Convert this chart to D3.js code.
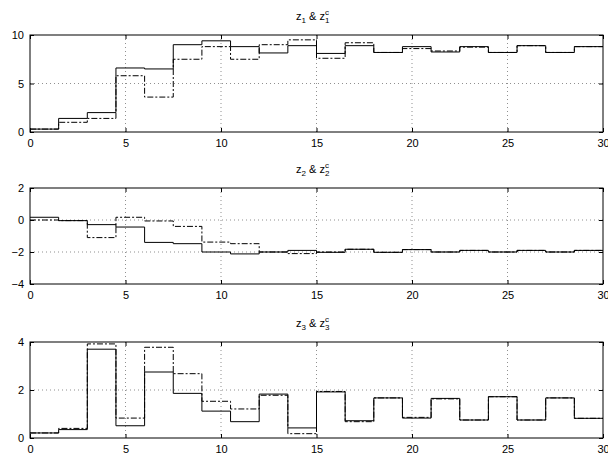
<!DOCTYPE html>
<html>
<head>
<meta charset="utf-8">
<script src="https://cdn.jsdelivr.net/npm/d3@7"></script>
<style>
body { margin: 0; background: #fff; }
text { font-family: "Liberation Sans", Arial, sans-serif; }
</style>
</head>
<body>
<script>
// step boundaries (every 1.5 s)
var steps = [0, 1.5, 3, 4.5, 6, 7.5, 9, 10.5, 12, 13.5, 15, 16.5, 18, 19.5, 21, 22.5, 24, 25.5, 27, 28.5, 30];
var xTicks = [0, 5, 10, 15, 20, 25, 30];

// z1 (solid) and z1c (dash-dot)
var z1  = [0.3, 1.4, 2.0, 6.6, 6.5, 9.0, 9.4, 8.8, 8.15, 8.9, 8.1, 8.9, 8.2, 8.8, 8.25, 8.8, 8.2, 8.9, 8.2, 8.8];
var z1c = [0.3, 1.0, 1.4, 5.8, 3.6, 7.5, 8.8, 7.5, 9.0, 9.5, 7.6, 9.2, 8.2, 8.6, 8.35, 8.75, 8.2, 8.9, 8.2, 8.8];
// z2 and z2c
var z2  = [0.17, -0.04, -0.29, -0.44, -1.4, -1.48, -2.0, -2.12, -2.0, -1.9, -2.02, -1.83, -2.02, -1.85, -2.0, -1.9, -2.0, -1.9, -2.0, -1.9];
var z2c = [0.0, -0.04, -1.1, 0.17, -0.06, -0.4, -1.38, -1.48, -2.0, -2.1, -2.0, -1.83, -2.02, -1.85, -2.0, -1.9, -2.0, -1.9, -2.0, -1.9];
// z3 and z3c
var z3  = [0.21, 0.35, 3.7, 0.51, 2.75, 1.86, 1.12, 0.68, 1.83, 0.42, 1.92, 0.72, 1.67, 0.83, 1.65, 0.75, 1.72, 0.75, 1.67, 0.82];
var z3c = [0.21, 0.4, 3.92, 0.83, 3.78, 2.68, 1.53, 1.21, 1.78, 0.18, 1.94, 0.68, 1.67, 0.86, 1.63, 0.75, 1.72, 0.75, 1.67, 0.82];

var panels = [
  {idx: "1", top: 35,  bottom: 132, domain: [0, 10], yTicks: [0, 5, 10], a: z1, b: z1c},
  {idx: "2", top: 188, bottom: 284, domain: [-4, 2], yTicks: [-4, -2, 0, 2], a: z2, b: z2c},
  {idx: "3", top: 342, bottom: 438, domain: [0, 4], yTicks: [0, 2, 4], a: z3, b: z3c}
];

var w = 608, h = 453;
var left = 30, right = 603;

var svg = d3.select("body").append("svg")
  .attr("width", w)
  .attr("height", h);

var x = d3.scaleLinear().domain([0, 30]).range([left, right]);

function stepPoints(vals) {
  var pts = [];
  vals.forEach(function(v, i) {
    pts.push([steps[i], v]);
    pts.push([steps[i + 1], v]);
  });
  return pts;
}

panels.forEach(function(p) {
  var y = d3.scaleLinear().domain(p.domain).range([p.bottom, p.top]);
  var g = svg.append("g");

  // grid
  g.selectAll(".gx").data(xTicks.slice(1, -1)).enter().append("line")
    .attr("x1", d => x(d)).attr("x2", d => x(d))
    .attr("y1", p.top).attr("y2", p.bottom)
    .attr("stroke", "#444").attr("stroke-width", 0.6)
    .attr("stroke-dasharray", "1,3");
  g.selectAll(".gy").data(p.yTicks.slice(1, -1)).enter().append("line")
    .attr("x1", left).attr("x2", right)
    .attr("y1", d => y(d)).attr("y2", d => y(d))
    .attr("stroke", "#444").attr("stroke-width", 0.6)
    .attr("stroke-dasharray", "1,3");

  var line = d3.line().x(d => x(d[0])).y(d => y(d[1]));

  g.append("path").datum(stepPoints(p.b))
    .attr("d", line).attr("fill", "none")
    .attr("stroke", "#000").attr("stroke-width", 1)
    .attr("stroke-dasharray", "6,2,2,2");
  g.append("path").datum(stepPoints(p.a))
    .attr("d", line).attr("fill", "none")
    .attr("stroke", "#000").attr("stroke-width", 1);

  // axes (ticks inside, on all four sides)
  var ax = g.append("g").attr("transform", "translate(0," + p.bottom + ")")
    .call(d3.axisBottom(x).tickValues(xTicks).tickSizeInner(-4).tickSizeOuter(0).tickPadding(7));
  var axT = g.append("g").attr("transform", "translate(0," + p.top + ")")
    .call(d3.axisTop(x).tickValues(xTicks).tickSizeInner(-4).tickSizeOuter(0).tickFormat(""));
  var ay = g.append("g").attr("transform", "translate(" + left + ",0)")
    .call(d3.axisLeft(y).tickValues(p.yTicks).tickSizeInner(-4).tickSizeOuter(0).tickPadding(6)
      .tickFormat(d => d < 0 ? "\u2212" + Math.abs(d) : d));
  var ayR = g.append("g").attr("transform", "translate(" + right + ",0)")
    .call(d3.axisRight(y).tickValues(p.yTicks).tickSizeInner(-4).tickSizeOuter(0).tickFormat(""));
  [ax, axT, ay, ayR].forEach(function(a) {
    a.select(".domain").remove();
    a.selectAll("text").style("font-size", "11px").attr("fill", "#000");
  });

  g.append("rect")
    .attr("x", left).attr("y", p.top)
    .attr("width", right - left).attr("height", p.bottom - p.top)
    .attr("fill", "none").attr("stroke", "#000").attr("stroke-width", 1);

  // title  z_i & z_i^c
  var t = svg.append("text")
    .attr("x", 296).attr("y", p.top - 15)
    .style("font-size", "11px");
  t.append("tspan").text("z");
  t.append("tspan").attr("dy", 3).style("font-size", "8px").text(p.idx);
  t.append("tspan").attr("dy", -3).text(" & z");
  t.append("tspan").attr("dy", -5).style("font-size", "8px").text("c");
  t.append("tspan").attr("dx", -4).attr("dy", 8).style("font-size", "8px").text(p.idx);
});
</script>
</body>
</html>
